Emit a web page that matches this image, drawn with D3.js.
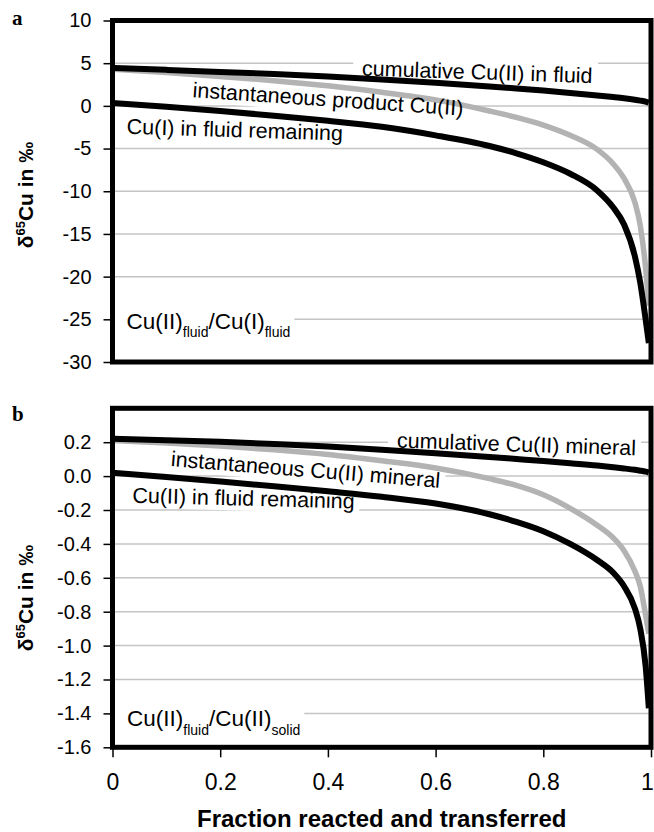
<!DOCTYPE html>
<html>
<head>
<meta charset="utf-8">
<script src="https://cdn.jsdelivr.net/npm/d3@7"></script>
<style>
	body { margin: 0; background: #fff; }
	svg { display: block; }
	text { font-family: "Liberation Sans", Arial, sans-serif; fill: #000; }
</style>
</head>
<body>
<div id="chartDiv"></div>
<script>
;(function() {

	// fraction reacted and transferred (shared by both panels)
	var fraction = [0, 0.1, 0.2, 0.3, 0.4, 0.5, 0.6, 0.7, 0.75, 0.8, 0.85, 0.9, 0.93, 0.95, 0.97, 0.98, 0.99, 0.996];

	// panel a : Cu(II)fluid / Cu(I)fluid
	var aCumulative = [4.45, 4.22, 3.98, 3.72, 3.43, 3.1, 2.72, 2.28, 2.04, 1.79, 1.52, 1.22, 1.03, 0.89, 0.72, 0.62, 0.5, 0.38];
	var aInstant    = [4.3, 3.9, 3.45, 2.95, 2.35, 1.6, 0.7, -0.6, -1.35, -2.25, -3.45, -5.1, -6.8, -8.5, -11.3, -14.0, -19.0, -23.4];
	var aRemaining  = [0.35, -0.1, -0.6, -1.15, -1.75, -2.45, -3.45, -4.7, -5.55, -6.6, -7.95, -9.9, -11.9, -13.9, -17.6, -20.7, -25.0, -27.8];

	// panel b : Cu(II)fluid / Cu(II)solid
	var bCumulative = [0.22, 0.212, 0.202, 0.19, 0.175, 0.156, 0.135, 0.113, 0.101, 0.089, 0.076, 0.062, 0.052, 0.045, 0.037, 0.032, 0.026, 0.021];
	var bInstant    = [0.21, 0.195, 0.177, 0.155, 0.127, 0.09, 0.048, -0.015, -0.055, -0.11, -0.19, -0.29, -0.365, -0.44, -0.56, -0.65, -0.82, -0.93];
	var bRemaining  = [0.02, -0.005, -0.032, -0.06, -0.09, -0.122, -0.162, -0.225, -0.27, -0.325, -0.4, -0.495, -0.57, -0.65, -0.78, -0.9, -1.12, -1.37];

	var xTicks = [0, 0.2, 0.4, 0.6, 0.8, 1];
	var aTicks = [10, 5, 0, -5, -10, -15, -20, -25, -30];
	var bTicks = [0.2, 0.0, -0.2, -0.4, -0.6, -0.8, -1.0, -1.2, -1.4, -1.6];

	var xAxisLabelHeader = "Fraction reacted and transferred";

	var width = 654;
	var height = 832;
	var black = "#000";
	var grey = "#b3b3b3";

	var svg = d3.select("#chartDiv").append("svg")
		.attr("width", width)
		.attr("height", height);

	var xScale = d3.scaleLinear().domain([0, 1]).range([112.5, 651]);

	function toPoints(values) {
		return values.map(function(v, i) { return { f: fraction[i], v: v }; });
	}

	function drawPanel(p) {
		var yScale = d3.scaleLinear().domain(p.domain).range([p.bottom, p.top]);
		var g = svg.append("g");
		var gridLayer = g.append("g");
		var boxLayer = g.append("g");
		var curveLayer = g.append("g");
		var textLayer = g.append("g");

		// horizontal gridlines
		gridLayer.selectAll("line").data(p.ticks).enter().append("line")
			.attr("x1", xScale(0)).attr("x2", xScale(1))
			.attr("y1", function(d) { return yScale(d); })
			.attr("y2", function(d) { return yScale(d); })
			.attr("stroke", "#c4c4c4")
			.attr("stroke-width", 1.5);

		// y axis
		var yAxis = d3.axisLeft(yScale)
			.tickValues(p.ticks)
			.tickFormat(p.fmt)
			.tickSize(9)
			.tickPadding(12);
		var ya = g.append("g")
			.attr("transform", "translate(" + xScale(0) + ",0)")
			.call(yAxis);
		ya.select(".domain").remove();
		ya.selectAll(".tick line").attr("stroke", black).attr("stroke-width", 1.5);
		ya.selectAll(".tick text").style("font-size", "20px").attr("fill", black);

		// x axis (bottom panel only)
		if (p.showX) {
			var xAxis = d3.axisBottom(xScale)
				.tickValues(xTicks)
				.tickFormat(function(d) { return String(d); })
				.tickSize(10)
				.tickPadding(16);
			var xa = g.append("g")
				.attr("transform", "translate(0," + p.bottom + ")")
				.call(xAxis);
			xa.select(".domain").remove();
			xa.selectAll(".tick line").attr("stroke", black).attr("stroke-width", 1.5);
			xa.selectAll(".tick text").style("font-size", "23px").attr("fill", black)
				.attr("dx", function(d) { return d === 1 ? -4 : 0; });
		}

		// curves
		var line = d3.line()
			.x(function(d) { return xScale(d.f); })
			.y(function(d) { return yScale(d.v); })
			.curve(d3.curveMonotoneX);

		curveLayer.selectAll("path").data(p.series).enter().append("path")
			.attr("d", function(s) { return line(toPoints(s.values)); })
			.attr("fill", "none")
			.attr("stroke", function(s) { return s.color; })
			.attr("stroke-width", function(s) { return s.width; });

		// rotated curve labels with white boxes behind
		p.notes.forEach(function(n) {
			var t = textLayer.append("text")
				.attr("transform", "translate(" + xScale(n.f) + "," + yScale(n.v) + ") rotate(" + n.angle + ")")
				.style("font-size", "21.5px")
				.text(n.text);
			var bb = t.node().getBBox();
			boxLayer.append("rect")
				.attr("transform", t.attr("transform"))
				.attr("x", bb.x - 9).attr("y", bb.y - 2)
				.attr("width", bb.width + 14).attr("height", bb.height + 2)
				.attr("fill", "#fff");
		});

		// ratio label bottom left
		var r = textLayer.append("text")
			.attr("x", xScale(p.ratio.f))
			.attr("y", yScale(p.ratio.v))
			.style("font-size", "22.5px");
		r.append("tspan").text(p.ratio.parts[0]);
		r.append("tspan").attr("dy", 8.4).style("font-size", "14px").text(p.ratio.parts[1]);
		r.append("tspan").attr("dy", -8.4).text(p.ratio.parts[2]);
		r.append("tspan").attr("dy", 8.4).style("font-size", "14px").text(p.ratio.parts[3]);
		var rb = r.node().getBBox();
		boxLayer.append("rect")
			.attr("x", xScale(0)).attr("y", rb.y)
			.attr("width", rb.x + rb.width + 4 - xScale(0)).attr("height", rb.height)
			.attr("fill", "#fff");

		// plot frame
		g.append("rect")
			.attr("x", xScale(0)).attr("y", p.top)
			.attr("width", xScale(1) - xScale(0)).attr("height", p.bottom - p.top)
			.attr("fill", "none")
			.attr("stroke", black)
			.attr("stroke-width", 5);

		// y axis header label
		var yt = g.append("text")
			.attr("text-anchor", "middle")
			.attr("transform", "translate(33," + p.titleY + ") rotate(-90)")
			.style("font-size", "21px")
			.style("font-weight", "bold");
		yt.append("tspan").text("\u03B4");
		yt.append("tspan").attr("dy", -8).style("font-size", "13px").text("65");
		yt.append("tspan").attr("dy", 8).text("Cu in \u2030");

		// panel letter
		g.append("text")
			.attr("x", 12).attr("y", p.letterY)
			.style("font-family", "'Liberation Serif', 'Times New Roman', serif")
			.style("font-weight", "bold")
			.style("font-size", "21px")
			.text(p.letter);
	}

	drawPanel({
		top: 20.5, bottom: 362,
		domain: [-30, 10],
		ticks: aTicks,
		fmt: function(d) { return String(d); },
		series: [
			{ values: aInstant, color: grey, width: 5.5 },
			{ values: aCumulative, color: black, width: 6 },
			{ values: aRemaining, color: black, width: 6 }
		],
		notes: [
			{ text: "cumulative Cu(II) in fluid", f: 0.463, v: 3.56, angle: 1.9 },
			{ text: "instantaneous product Cu(II)", f: 0.148, v: 1.02, angle: 3.9 },
			{ text: "Cu(I) in fluid remaining", f: 0.026, v: -3.27, angle: 1.8 }
		],
		ratio: { parts: ["Cu(II)", "fluid", "/Cu(I)", "fluid"], f: 0.026, v: -26.1 },
		letter: "a", letterY: 25,
		titleY: 195,
		showX: false
	});

	drawPanel({
		top: 408.3, bottom: 747.3,
		domain: [-1.6, 0.4],
		ticks: bTicks,
		fmt: function(d) { return d.toFixed(1); },
		series: [
			{ values: bInstant, color: grey, width: 5.5 },
			{ values: bCumulative, color: black, width: 6 },
			{ values: bRemaining, color: black, width: 6 }
		],
		notes: [
			{ text: "cumulative Cu(II) mineral", f: 0.528, v: 0.168, angle: 1.85 },
			{ text: "instantaneous Cu(II) mineral", f: 0.1075, v: 0.059, angle: 4.6 },
			{ text: "Cu(II) in fluid remaining", f: 0.0365, v: -0.157, angle: 1.5 }
		],
		ratio: { parts: ["Cu(II)", "fluid", "/Cu(II)", "solid"], f: 0.027, v: -1.476 },
		letter: "b", letterY: 421,
		titleY: 598,
		showX: true
	});

	// x axis header label
	svg.append("text")
		.attr("x", (xScale(0) + xScale(1)) / 2)
		.attr("y", 827)
		.attr("text-anchor", "middle")
		.style("font-size", "24px")
		.style("font-weight", "bold")
		.text(xAxisLabelHeader);

})();
</script>
</body>
</html>
